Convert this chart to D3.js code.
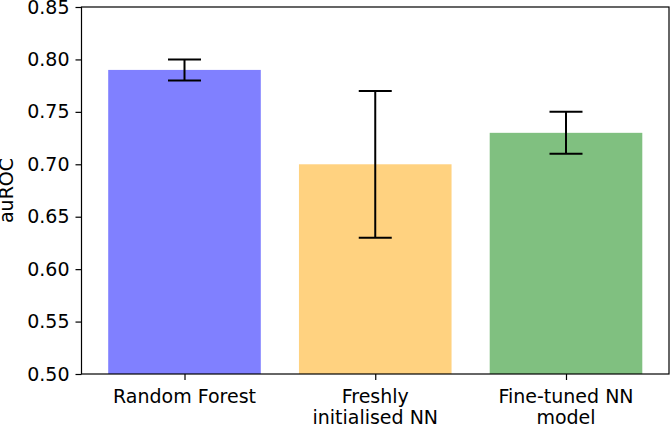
<!DOCTYPE html>
<html>
<head>
<meta charset="utf-8">
<script src="https://cdn.jsdelivr.net/npm/d3@7"></script>
<style>
  body { margin: 0; background: #fff; }
  text { font-family: "DejaVu Sans", sans-serif; fill: #000; }
</style>
</head>
<body>
<script>
var categories = [["Random Forest"], ["Freshly", "initialised NN"], ["Fine-tuned NN", "model"]];
var values = [0.79, 0.70, 0.73];
var errors = [0.01, 0.07, 0.02];
var colors = ["#8080ff", "#ffd280", "#80c080"];
var yTicks = [0.50, 0.55, 0.60, 0.65, 0.70, 0.75, 0.80, 0.85];

var width = 670, height = 424;
var margin = {top: 7, right: 1, bottom: 50, left: 81.5};
var fontSize = "19px";

var svg = d3.select("body").append("svg")
	.attr("width", width)
	.attr("height", height);

var x = d3.scaleLinear()
	.domain([-0.54, 2.54])
	.range([margin.left, width - margin.right]);

var y = d3.scaleLinear()
	.domain([0.5, 0.85])
	.range([height - margin.bottom, margin.top]);

var idx = values.map(function(d, i) { return i; });

// bars
svg.selectAll(".bar")
	.data(idx)
	.enter().append("rect")
	.attr("class", "bar")
	.attr("x", function(i) { return x(i - 0.4); })
	.attr("width", function(i) { return x(0.8) - x(0); })
	.attr("y", function(i) { return y(values[i]); })
	.attr("height", function(i) { return y(0.5) - y(values[i]); })
	.style("fill", function(i) { return colors[i]; });

// error bars
var cap = 16.5;
var err = svg.selectAll(".err")
	.data(idx)
	.enter().append("g")
	.attr("class", "err")
	.style("stroke", "#000")
	.style("stroke-width", 2);
err.append("line")
	.attr("x1", function(i) { return x(i); })
	.attr("x2", function(i) { return x(i); })
	.attr("y1", function(i) { return y(values[i] - errors[i]); })
	.attr("y2", function(i) { return y(values[i] + errors[i]); });
err.append("line")
	.attr("x1", function(i) { return x(i) - cap; })
	.attr("x2", function(i) { return x(i) + cap; })
	.attr("y1", function(i) { return y(values[i] - errors[i]); })
	.attr("y2", function(i) { return y(values[i] - errors[i]); });
err.append("line")
	.attr("x1", function(i) { return x(i) - cap; })
	.attr("x2", function(i) { return x(i) + cap; })
	.attr("y1", function(i) { return y(values[i] + errors[i]); })
	.attr("y2", function(i) { return y(values[i] + errors[i]); });

// y axis
var yAxis = svg.append("g")
	.attr("transform", "translate(" + margin.left + ",0)")
	.call(d3.axisLeft(y).tickValues(yTicks).tickFormat(d3.format(".2f")).tickSize(6).tickPadding(6));
yAxis.select(".domain").remove();
yAxis.selectAll("line").style("stroke-width", 1.2);
yAxis.selectAll("text").style("font-size", fontSize);

// x axis
var xAxis = svg.append("g")
	.attr("transform", "translate(0," + (height - margin.bottom) + ")")
	.call(d3.axisBottom(x).tickValues(idx).tickFormat("").tickSize(6));
xAxis.select(".domain").remove();
xAxis.selectAll("line").style("stroke-width", 1.2);

svg.selectAll(".xlab")
	.data(idx)
	.enter().append("text")
	.attr("class", "xlab")
	.attr("text-anchor", "middle")
	.style("font-size", fontSize)
	.attr("transform", function(i) { return "translate(" + x(i) + "," + (height - margin.bottom + 29) + ")"; })
	.selectAll("tspan")
	.data(function(i) { return categories[i]; })
	.enter().append("tspan")
	.attr("x", 0)
	.attr("dy", function(d, j) { return j === 0 ? 0 : 21; })
	.text(function(d) { return d; });

// frame
svg.append("rect")
	.attr("x", margin.left)
	.attr("y", margin.top)
	.attr("width", width - margin.left - margin.right)
	.attr("height", height - margin.top - margin.bottom)
	.style("fill", "none")
	.style("stroke", "#000")
	.style("stroke-width", 1.2);

// y label
svg.append("text")
	.attr("transform", "translate(13," + ((margin.top + height - margin.bottom) / 2) + ") rotate(-90)")
	.attr("text-anchor", "middle")
	.style("font-size", fontSize)
	.text("auROC");
</script>
</body>
</html>
